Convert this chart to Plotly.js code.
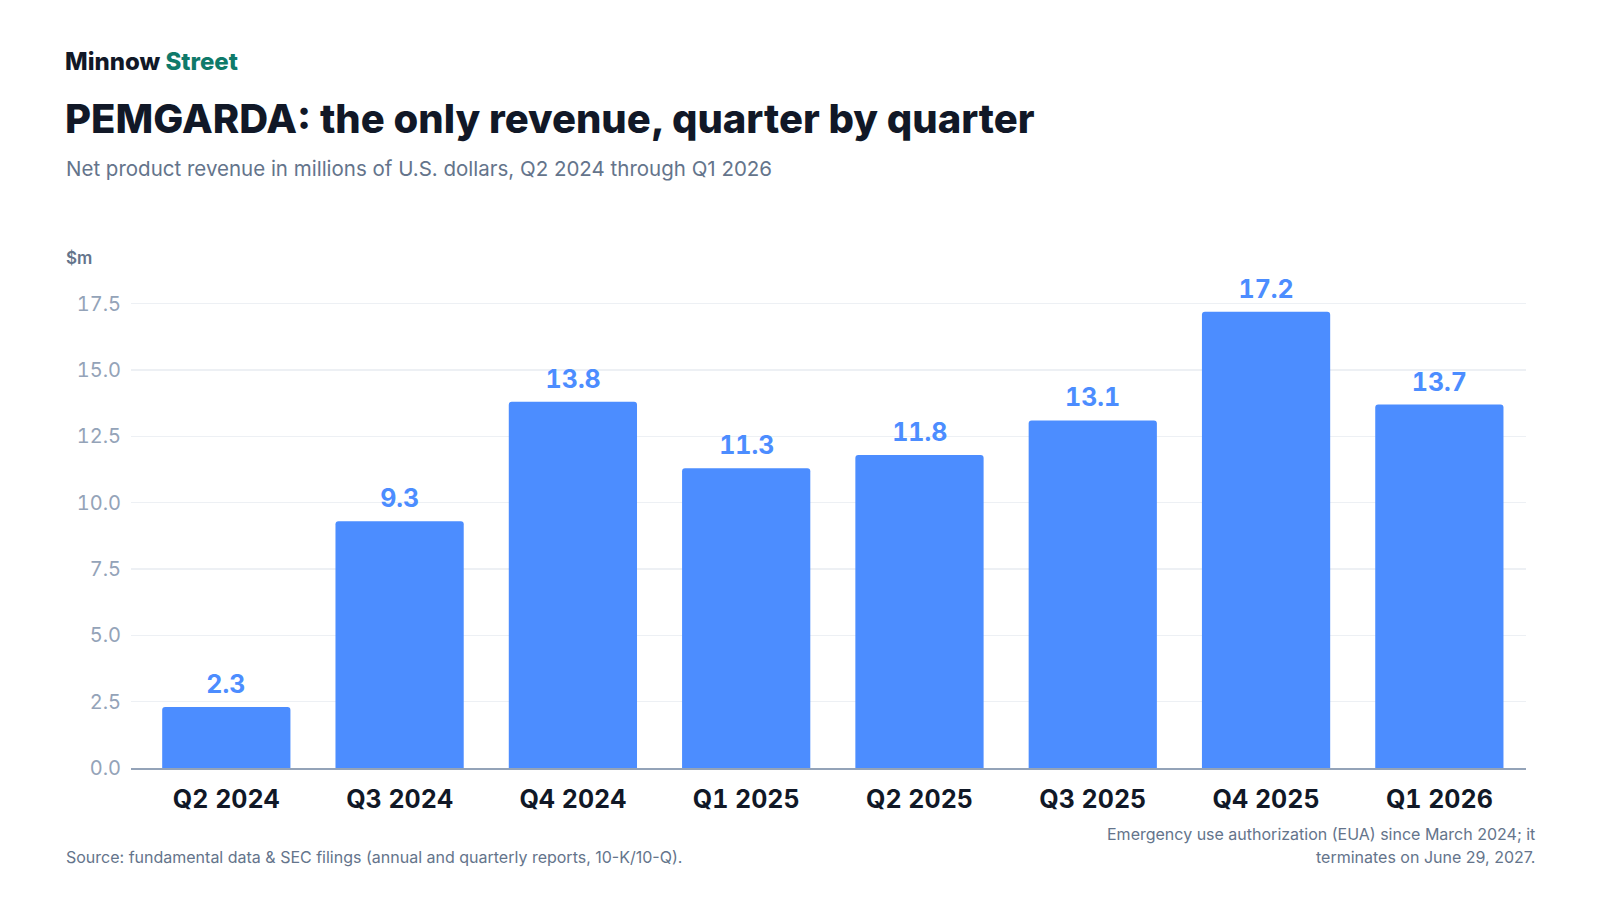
<!DOCTYPE html>
<html>
<head>
<meta charset="utf-8">
<script src="https://cdn.plot.ly/plotly-3.0.1.min.js"></script>
<style>
html,body{margin:0;padding:0;background:#fff;}
#chart{width:1600px;height:900px;}
#chart .ytick text, #chart .xtick text, #chart .annotation.barlabel text {
  font-feature-settings: "tnum" 1;
  font-variant-numeric: tabular-nums;
}
</style>
</head>
<body>
<div id="chart"></div>
<script>
const quarters = ["Q2 2024","Q3 2024","Q4 2024","Q1 2025","Q2 2025","Q3 2025","Q4 2025","Q1 2026"];
const revenue = [2.3, 9.3, 13.8, 11.3, 11.8, 13.1, 17.2, 13.7];
const yTicks = [0, 2.5, 5, 7.5, 10, 12.5, 15, 17.5];
const yTickLabels = ["0.0","2.5","5.0","7.5","10.0","12.5","15.0","17.5"];

const W = 1600, H = 900;
const L = 131, R = 74, T = 266, B = 132;
const PW = W - L - R, PH = H - T - B;
const px = x => (x - L) / PW;
const py = y => (H - B - y) / PH;

const FONT = "Inter, 'Noto Sans', sans-serif";
const blue = "#4c8dff";

const barLabels = quarters.map((q, i) => ({
  x: q, y: revenue[i], xref: "x", yref: "y",
  text: revenue[i].toFixed(1), showarrow: false,
  yanchor: "bottom", yshift: 6,
  font: {family: FONT, size: 25, color: blue, weight: 700}
}));

const textAnn = [
  {x: px(63), y: py(62), xanchor: "left", yanchor: "middle",
   text: "Minnow <span style='color:#0f7a6a'>Street</span>",
   font: {family: FONT, size: 24, color: "#111827", weight: 800}},
  {x: px(63), y: py(118), xanchor: "left", yanchor: "middle",
   text: "PEMGARDA: the only revenue, quarter by quarter",
   font: {family: FONT, size: 40, color: "#111827", weight: 800}},
  {x: px(64), y: py(169), xanchor: "left", yanchor: "middle",
   text: "Net product revenue in millions of U.S. dollars, Q2 2024 through Q1 2026",
   font: {family: FONT, size: 20.5, color: "#64748b"}},
  {x: px(64), y: py(258), xanchor: "left", yanchor: "middle",
   text: "$m",
   font: {family: FONT, size: 17, color: "#64748b", weight: 600}},
  {x: px(64), y: py(857), xanchor: "left", yanchor: "middle",
   text: "Source: fundamental data &amp; SEC filings (annual and quarterly reports, 10-K/10-Q).",
   font: {family: FONT, size: 16, color: "#64748b"}},
  {x: px(1537), y: py(834), xanchor: "right", yanchor: "middle", align: "right",
   text: "Emergency use authorization (EUA) since March 2024; it",
   font: {family: FONT, size: 16, color: "#64748b"}},
  {x: px(1537), y: py(857), xanchor: "right", yanchor: "middle", align: "right",
   text: "terminates on June 29, 2027.",
   font: {family: FONT, size: 16, color: "#64748b"}}
].map(a => Object.assign({xref: "paper", yref: "paper", showarrow: false}, a));

const trace = {
  type: "bar",
  x: quarters,
  y: revenue,
  marker: {color: blue, cornerradius: 3, line: {width: 0}},
  hoverinfo: "x+y"
};

const layout = {
  width: W, height: H,
  margin: {l: L, r: R, t: T, b: B, pad: 0},
  paper_bgcolor: "#ffffff",
  plot_bgcolor: "#ffffff",
  showlegend: false,
  bargap: 0.26,
  font: {family: FONT},
  xaxis: {
    type: "category",
    range: [-0.55, 7.5],
    showgrid: false,
    showline: true, linecolor: "#94a3b8", linewidth: 2,
    ticks: "", ticklabelstandoff: 8,
    tickfont: {family: FONT, size: 25, color: "#111827", weight: 700},
    fixedrange: true
  },
  yaxis: {
    range: [0, 18.92],
    tickvals: yTicks, ticktext: yTickLabels,
    showgrid: true, gridcolor: "#edf0f4", gridwidth: 1.5,
    zeroline: false, showline: false,
    ticks: "", ticklabelstandoff: 9,
    tickfont: {family: FONT, size: 20, color: "#94a3b8"},
    fixedrange: true
  },
  annotations: barLabels.concat(textAnn)
};

Plotly.newPlot("chart", [trace], layout, {displayModeBar: false, staticPlot: true}).then(gd => {
  const anns = gd.querySelectorAll(".annotation");
  anns.forEach((a, i) => { if (i < quarters.length) a.classList.add("barlabel"); });
});
</script>
</body>
</html>
